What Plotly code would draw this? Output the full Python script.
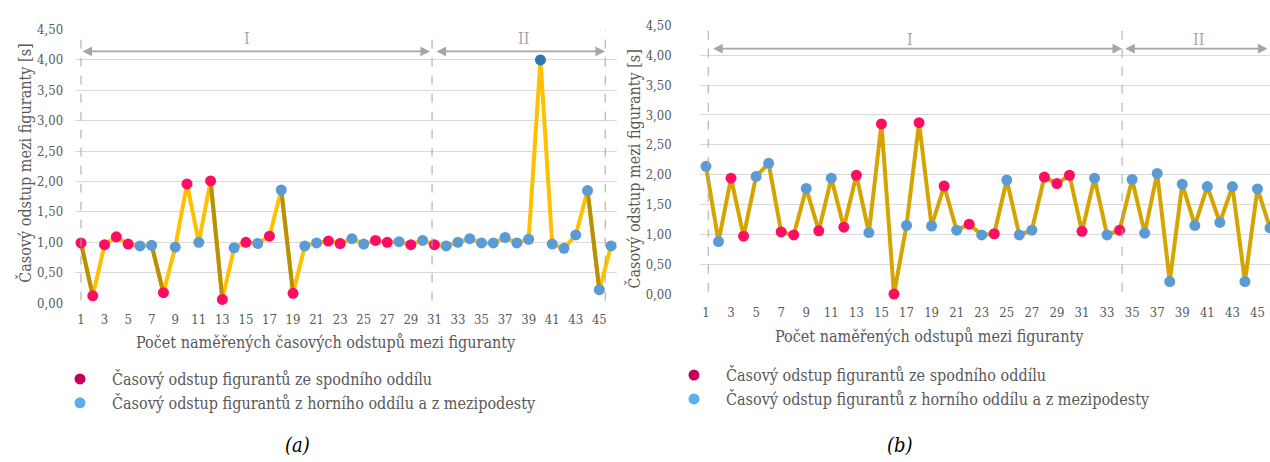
import plotly.graph_objects as go

# ---- data -------------------------------------------------------------
# (a) measured intervals, source group per interval (S = spodní oddíl, H = horní oddíl / mezipodesta)
a_index = list(range(1, 47))
a_values = [0.99, 0.12, 0.96, 1.09, 0.97, 0.94, 0.95, 0.17, 0.92, 1.96,
            1.00, 2.01, 0.06, 0.91, 1.00, 0.98, 1.10, 1.86, 0.16, 0.94,
            0.99, 1.02, 0.98, 1.06, 0.97, 1.03, 1.00, 1.01, 0.96, 1.03,
            0.96, 0.94, 1.00, 1.06, 0.99, 0.99, 1.08, 0.99, 1.05, 4.00,
            0.97, 0.90, 1.12, 1.85, 0.22, 0.94]
a_source = ["S", "S", "S", "S", "S", "H", "H", "S", "H", "S",
            "H", "S", "S", "H", "S", "H", "S", "H", "S", "H",
            "H", "S", "S", "H", "H", "S", "S", "H", "S", "H",
            "S", "H", "H", "H", "H", "H", "H", "H", "H", "H",
            "H", "H", "H", "H", "H", "H"]
a_dark_segments = [(1, 2), (7, 8), (12, 13), (18, 19), (44, 45)]
a_highlight = [40]

# (b)
b_index = list(range(1, 47))
b_values = [2.14, 0.88, 1.94, 0.97, 1.97, 2.19, 1.04, 0.99, 1.77, 1.06,
            1.94, 1.12, 1.99, 1.03, 2.85, 0.00, 1.15, 2.87, 1.14, 1.81,
            1.07, 1.17, 0.99, 1.01, 1.91, 0.99, 1.07, 1.96, 1.85, 1.99,
            1.05, 1.94, 0.99, 1.07, 1.92, 1.02, 2.02, 0.21, 1.84, 1.15,
            1.80, 1.20, 1.80, 0.21, 1.76, 1.11]
b_source = ["H", "H", "S", "S", "H", "H", "S", "S", "H", "S",
            "H", "S", "S", "H", "S", "S", "H", "S", "H", "S",
            "H", "S", "H", "S", "H", "H", "H", "S", "S", "S",
            "S", "H", "H", "S", "H", "H", "H", "H", "H", "H",
            "H", "H", "H", "H", "H", "H"]

y_ticks = [0, 0.5, 1.0, 1.5, 2.0, 2.5, 3.0, 3.5, 4.0, 4.5]
x_ticks = list(range(1, 46, 2))

legend_labels = ["Časový odstup figurantů ze spodního oddílu",
                 "Časový odstup figurantů z horního oddílu a z mezipodesty"]
y_title = "Časový odstup mezi figuranty [s]"
x_title_a = "Počet naměřených časových odstupů mezi figuranty"
x_title_b = "Počet naměřených odstupů mezi figuranty"

# ---- styling ----------------------------------------------------------
W, H = 1270, 462
FONT = "DejaVu Serif Condensed, DejaVu Serif, serif"
TXT = "#595959"
GREY = "#A6A6A6"
RED = "#FF0D62"
BLUE = "#5B9BD5"
DARK_BLUE = "#2E75B6"
YELLOW = "#FFC000"
OLIVE = "#B8900A"
GOLD = "#D6A400"
LEG_RED = "#C4005A"
LEG_BLUE = "#5AAEF2"


def px(x):
    return x / W


def py(y):
    return 1 - y / H


fig = go.Figure()

# ---- chart (a) --------------------------------------------------------
fig.add_trace(go.Scatter(x=a_index, y=a_values, mode="lines",
                         line=dict(color=YELLOW, width=4),
                         xaxis="x", yaxis="y", showlegend=False, hoverinfo="skip"))
for s, e in a_dark_segments:
    fig.add_trace(go.Scatter(x=[s, e], y=[a_values[s - 1], a_values[e - 1]], mode="lines",
                             line=dict(color=OLIVE, width=4),
                             xaxis="x", yaxis="y", showlegend=False, hoverinfo="skip"))


def marker_trace(idx, vals, src, key, color, axx, axy):
    xs = [i for i, s in zip(idx, src) if s == key]
    ys = [v for v, s in zip(vals, src) if s == key]
    return go.Scatter(x=xs, y=ys, mode="markers",
                      marker=dict(color=color, size=11),
                      xaxis=axx, yaxis=axy, showlegend=False, cliponaxis=False)


fig.add_trace(marker_trace(a_index, a_values, a_source, "S", RED, "x", "y"))
a_blue_color = [DARK_BLUE if i in a_highlight else BLUE
                for i, s in zip(a_index, a_source) if s == "H"]
t = marker_trace(a_index, a_values, a_source, "H", BLUE, "x", "y")
t.marker.color = a_blue_color
fig.add_trace(t)

# ---- chart (b) --------------------------------------------------------
fig.add_trace(go.Scatter(x=b_index, y=b_values, mode="lines",
                         line=dict(color=GOLD, width=4),
                         xaxis="x2", yaxis="y2", showlegend=False, hoverinfo="skip"))
fig.add_trace(marker_trace(b_index, b_values, b_source, "S", RED, "x2", "y2"))
fig.add_trace(marker_trace(b_index, b_values, b_source, "H", BLUE, "x2", "y2"))

# ---- legends ----------------------------------------------------------
for lg in ("legend", "legend2"):
    for lab, col in zip(legend_labels, [LEG_RED, LEG_BLUE]):
        fig.add_trace(go.Scatter(x=[None], y=[None], mode="markers", name=lab,
                                 marker=dict(color=col, size=11),
                                 xaxis="x" if lg == "legend" else "x2",
                                 yaxis="y" if lg == "legend" else "y2",
                                 legend=lg, showlegend=True))

legend_style = dict(font=dict(family=FONT, size=16, color=TXT), bgcolor="rgba(0,0,0,0)",
                    itemwidth=54, xanchor="left", yanchor="top", tracegroupgap=0,
                    itemclick=False, itemdoubleclick=False)

axis_common = dict(showline=False, zeroline=False, ticks="",
                   tickfont=dict(family=FONT, size=13, color=TXT))

fig.update_layout(
    width=W, height=H,
    margin=dict(l=0, r=0, t=0, b=0),
    paper_bgcolor="white", plot_bgcolor="white",
    separators=", ",
    font=dict(family=FONT, color=TXT),
    xaxis=dict(domain=[px(75.1), px(617.0)], range=[0.5, 46.5], tickvals=x_ticks,
               showgrid=False, anchor="y", ticklabelstandoff=7, **axis_common),
    yaxis=dict(domain=[py(306), py(23.3)], range=[0, 4.5], tickvals=y_ticks, tickformat=".2f",
               gridcolor="#D9D9D9", gridwidth=1, anchor="x", ticklabelstandoff=11, **axis_common),
    xaxis2=dict(domain=[px(699.7), 1.0], range=[0.5, 46.0], tickvals=x_ticks,
                showgrid=False, anchor="y2", ticklabelstandoff=9, **axis_common),
    yaxis2=dict(domain=[py(296.7), py(19)], range=[0, 4.5], tickvals=y_ticks, tickformat=".2f",
                gridcolor="#D9D9D9", gridwidth=1, anchor="x2", ticklabelstandoff=27, **axis_common),
    legend=dict(x=px(80 - 32), y=py(367), **legend_style),
    legend2=dict(x=px(694 - 32), y=py(363), **legend_style),
)

# ---- section markers --------------------------------------------------
dash_lines = [("x", "y", 1.0, 4.43), ("x", "y", 30.8, 4.47), ("x", "y", 45.5, 4.5),
              ("x2", "y2", 1.18, 4.5), ("x2", "y2", 34.2, 4.5)]
for xr, yr, xv, top in dash_lines:
    fig.add_shape(type="line", xref=xr, yref=yr, x0=xv, x1=xv, y0=0.04, y1=top,
                  line=dict(color=GREY, width=1, dash="dash"))

arrows = [("x", "y", 1.0, 30.63, 4.14), ("x", "y", 31.05, 45.48, 4.14),
          ("x2", "y2", 1.45, 34.2, 4.11), ("x2", "y2", 34.33, 45.8, 4.11)]
for xr, yr, x0, x1, yv in arrows:
    fig.add_annotation(xref=xr, yref=yr, axref=xr, ayref=yr, x=x1, y=yv, ax=x0, ay=yv,
                       text="", showarrow=True, arrowhead=2, arrowside="end+start",
                       arrowsize=1.2, arrowwidth=1.6, arrowcolor=GREY,
                       standoff=0, startstandoff=0)

sections = [("x", "y", 15.07, 4.35, "I"), ("x", "y", 38.6, 4.35, "II"),
            ("x2", "y2", 17.3, 4.27, "I"), ("x2", "y2", 40.3, 4.27, "II")]
for xr, yr, xv, yv, lab in sections:
    fig.add_annotation(xref=xr, yref=yr, x=xv, y=yv, text=lab, showarrow=False,
                       xanchor="center", yanchor="middle",
                       font=dict(family=FONT, size=16, color=GREY))


# ---- titles and captions ---------------------------------------------
def paper_text(x, y, text, size, color=TXT, angle=0):
    fig.add_annotation(xref="paper", yref="paper", x=px(x), y=py(y), text=text,
                       textangle=angle, showarrow=False, xanchor="center", yanchor="middle",
                       font=dict(family=FONT, size=size, color=color))


paper_text(25, 162, y_title, 16, angle=-90)
paper_text(634, 168, y_title, 16, angle=-90)
paper_text(326, 347, x_title_a, 16)
paper_text(929, 341, x_title_b, 16)
paper_text(297, 453, "<i>(a)</i>", 20, color="black")
paper_text(900, 453, "<i>(b)</i>", 20, color="black")

fig.write_html("out.html")
